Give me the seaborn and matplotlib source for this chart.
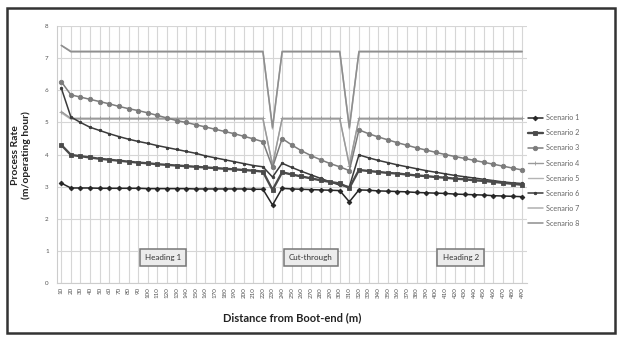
"""
Process rate vs distance from boot-end, eight scenarios (greyscale Excel look).
"""

import matplotlib
matplotlib.use('Agg')
import matplotlib.pyplot as plt
from matplotlib.patches import Rectangle
import seaborn as sns

# distance from boot-end (m) - one category per 10 m
distance = [10, 20, 30, 40, 50, 60, 70, 80, 90, 100, 110, 120, 130, 140, 150, 160, 170,
            180, 190, 200, 210, 220, 230, 240, 250, 260, 270, 280, 290, 300, 310, 320, 330,
            340, 350, 360, 370, 380, 390, 400, 410, 420, 430, 440, 450, 460, 470, 480, 490]

scenario_1 = [3.11, 2.96, 2.96, 2.96, 2.95, 2.95, 2.95, 2.95, 2.95, 2.94, 2.94, 2.94, 2.94,
              2.94, 2.93, 2.93, 2.93, 2.93, 2.93, 2.93, 2.92, 2.92,
              2.43,
              2.95, 2.93, 2.92, 2.91, 2.90, 2.89, 2.88,
              2.53,
              2.90, 2.89, 2.87, 2.86, 2.85, 2.84, 2.82, 2.81, 2.80, 2.79, 2.77, 2.76, 2.75,
              2.74, 2.72, 2.71, 2.70, 2.69]
scenario_2 = [4.30, 3.99, 3.95, 3.91, 3.87, 3.84, 3.81, 3.78, 3.75, 3.73, 3.70, 3.68, 3.66,
              3.64, 3.62, 3.60, 3.58, 3.56, 3.54, 3.52, 3.50, 3.47,
              2.90,
              3.45, 3.38, 3.32, 3.26, 3.20, 3.15, 3.10,
              2.96,
              3.52, 3.49, 3.46, 3.43, 3.41, 3.38, 3.35, 3.33, 3.30, 3.28, 3.25, 3.23, 3.20,
              3.18, 3.15, 3.12, 3.09, 3.06]
scenario_3 = [6.27, 5.86, 5.79, 5.72, 5.65, 5.58, 5.50, 5.43, 5.37, 5.30, 5.22, 5.14, 5.06,
              5.00, 4.93, 4.86, 4.79, 4.72, 4.65, 4.57, 4.49, 4.40,
              3.60,
              4.50, 4.30, 4.12, 3.97, 3.84, 3.72, 3.62,
              3.50,
              4.77, 4.65, 4.55, 4.46, 4.37, 4.29, 4.21, 4.14, 4.07, 4.00, 3.94, 3.88, 3.82,
              3.76, 3.70, 3.64, 3.58, 3.52]
scenario_4 = [5.34, 5.13, 5.13, 5.13, 5.13, 5.13, 5.13, 5.13, 5.13, 5.13, 5.13, 5.13, 5.13,
              5.13, 5.13, 5.13, 5.13, 5.13, 5.13, 5.13, 5.13, 5.13,
              3.65,
              5.13, 5.13, 5.13, 5.13, 5.13, 5.13, 5.13,
              3.65,
              5.13, 5.13, 5.13, 5.13, 5.13, 5.13, 5.13, 5.13, 5.13, 5.13, 5.13, 5.13, 5.13,
              5.13, 5.13, 5.13, 5.13, 5.13]
scenario_5 = [5.30, 5.10, 5.10, 5.10, 5.10, 5.10, 5.10, 5.10, 5.10, 5.10, 5.10, 5.10, 5.10,
              5.10, 5.10, 5.10, 5.10, 5.10, 5.10, 5.10, 5.10, 5.10,
              3.70,
              5.10, 5.10, 5.10, 5.10, 5.10, 5.10, 5.10,
              3.70,
              5.10, 5.10, 5.10, 5.10, 5.10, 5.10, 5.10, 5.10, 5.10, 5.10, 5.10, 5.10, 5.10,
              5.10, 5.10, 5.10, 5.10, 5.10]
scenario_6 = [6.07, 5.17, 5.00, 4.85, 4.75, 4.65, 4.56, 4.48, 4.41, 4.35, 4.28, 4.22, 4.16,
              4.10, 4.04, 3.96, 3.90, 3.84, 3.78, 3.72, 3.66, 3.62,
              3.30,
              3.73, 3.60, 3.48, 3.37, 3.26, 3.15, 3.05,
              3.00,
              3.99, 3.90, 3.82, 3.75, 3.68, 3.62, 3.56, 3.50, 3.45, 3.40, 3.35, 3.31, 3.27,
              3.23, 3.19, 3.15, 3.12, 3.10]
scenario_7 = [7.40, 7.22, 7.22, 7.22, 7.22, 7.22, 7.22, 7.22, 7.22, 7.22, 7.22, 7.22, 7.22,
              7.22, 7.22, 7.22, 7.22, 7.22, 7.22, 7.22, 7.22, 7.22,
              4.80,
              7.22, 7.22, 7.22, 7.22, 7.22, 7.22, 7.22,
              4.80,
              7.22, 7.22, 7.22, 7.22, 7.22, 7.22, 7.22, 7.22, 7.22, 7.22, 7.22, 7.22, 7.22,
              7.22, 7.22, 7.22, 7.22, 7.22]
scenario_8 = [7.40, 7.20, 7.20, 7.20, 7.20, 7.20, 7.20, 7.20, 7.20, 7.20, 7.20, 7.20, 7.20,
              7.20, 7.20, 7.20, 7.20, 7.20, 7.20, 7.20, 7.20, 7.20,
              4.85,
              7.20, 7.20, 7.20, 7.20, 7.20, 7.20, 7.20,
              4.85,
              7.20, 7.20, 7.20, 7.20, 7.20, 7.20, 7.20, 7.20, 7.20, 7.20, 7.20, 7.20, 7.20,
              7.20, 7.20, 7.20, 7.20, 7.20]

scenario_names = ['Scenario 1', 'Scenario 2', 'Scenario 3', 'Scenario 4',
                  'Scenario 5', 'Scenario 6', 'Scenario 7', 'Scenario 8']
section_labels = ['Heading 1', 'Cut-through', 'Heading 2']
section_pos = [116, 270, 426]

series = [scenario_1, scenario_2, scenario_3, scenario_4,
          scenario_5, scenario_6, scenario_7, scenario_8]

# colour, marker, marker size, line width, z-order
styles = [
    ('#262626', 'D', 2.4, 1.1, 8),
    ('#4a4a4a', 's', 3.4, 1.7, 7),
    ('#7c7c7c', 'o', 3.2, 1.1, 6),
    ('#9a9a9a', '+', 3.0, 1.0, 4),
    ('#b4b4b4', None, 0, 1.0, 3),
    ('#3a3a3a', 'o', 1.8, 1.1, 5),
    ('#b0b0b0', None, 0, 1.1, 2),
    ('#8e8e8e', None, 0, 1.1, 2),
]

sns.set_style('whitegrid')
plt.rcParams['font.family'] = ['Lato', 'DejaVu Sans']

fig = plt.figure(figsize=(6.24, 3.39), dpi=100)
ax = fig.add_axes([0.0913, 0.165, 0.754, 0.758])

for name, vals, (col, mk, ms, lw, z) in zip(scenario_names, series, styles):
    sns.lineplot(x=distance, y=vals, ax=ax, color=col, marker=mk, markersize=ms,
                 markeredgecolor=col, markeredgewidth=0.6, linewidth=lw, label=name,
                 zorder=z)

ax.set_xlim(5.5, 495.5)
ax.set_ylim(0, 8)
ax.set_yticks(range(0, 9))
ax.set_xticks(distance)
ax.set_xticklabels([str(d) for d in distance], rotation=90, fontsize=4.5, color='#555555')
ax.tick_params(axis='y', labelsize=4.5, labelcolor='#555555', pad=6)
ax.tick_params(axis='x', pad=3)
ax.tick_params(length=0)

ax.grid(True, color='#d6d6d6', linewidth=0.8)
for side in ['top', 'right']:
    ax.spines[side].set_visible(False)
ax.spines['left'].set_color('#cccccc')
ax.spines['bottom'].set_color('#cccccc')

ax.set_xlabel('Distance from Boot-end (m)', fontsize=8, fontweight='bold',
              color='#222222', labelpad=10)
ax.set_ylabel('Process Rate\n(m/operating hour)', fontsize=7.5, fontweight='bold',
              color='#222222', labelpad=10)

for txt, pos in zip(section_labels, section_pos):
    ax.text(pos, 0.8, txt, ha='center', va='center', fontsize=5.8, color='#333333',
            bbox=dict(boxstyle='square,pad=0.65', fc='#ececec', ec='#777777', lw=1.1),
            zorder=10)

leg = ax.legend(loc='upper left', bbox_to_anchor=(0.835, 0.682),
                bbox_transform=fig.transFigure, frameon=False, fontsize=5.2,
                handlelength=2.2, labelspacing=1.12, handletextpad=0.4)
for t in leg.get_texts():
    t.set_color('#666666')

# outer chart frame
fig.patches.append(Rectangle((0.012, 0.018), 0.974, 0.958, transform=fig.transFigure,
                             fill=False, ec='#333333', lw=1.8))

fig.savefig('out.png', dpi=100)
